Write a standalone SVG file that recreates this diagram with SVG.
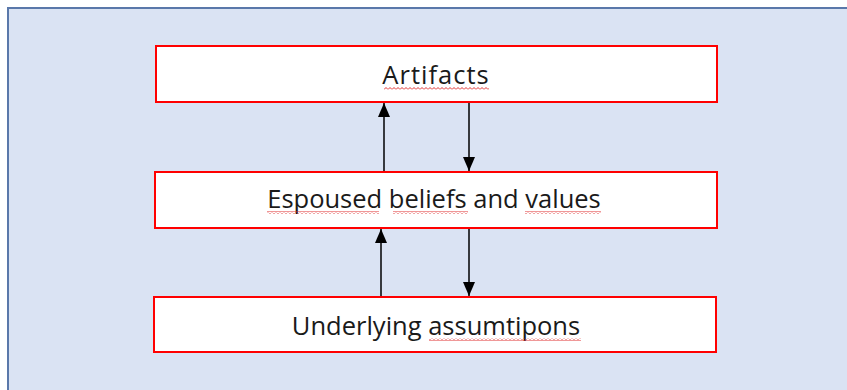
<svg xmlns="http://www.w3.org/2000/svg" width="847" height="390" viewBox="0 0 847 390">
<defs>
<style>
.box{fill:#ffffff;stroke:#ff0000;stroke-width:2}
.lbl{font-family:"Open Sans","DejaVu Sans",sans-serif;font-size:25.5px;fill:#1a1a1a;text-anchor:middle}
.conn{stroke:#000;stroke-width:1.5;fill:none}
</style>
<marker id="ah" viewBox="0 0 14 12" refX="14" refY="6" markerWidth="14" markerHeight="12" markerUnits="userSpaceOnUse" orient="auto">
<path d="M0,0 L14,6 L0,12 Z" fill="#000"/>
</marker>
<pattern id="wave" width="4" height="3" patternUnits="userSpaceOnUse">
<path d="M0,2.5 L2,0.5 L4,2.5" stroke="#e03030" stroke-width="1" fill="none"/>
</pattern>
</defs>
<rect x="0" y="0" width="847" height="390" fill="#ffffff"/>
<rect x="8" y="8" width="850" height="400" fill="#dae3f3" stroke="#5a78aa" stroke-width="2"/>
<g id="connectors">
<line class="conn" x1="384" y1="172" x2="384" y2="103" marker-end="url(#ah)"/>
<line class="conn" x1="469" y1="102" x2="469" y2="171" marker-end="url(#ah)"/>
<line class="conn" x1="381" y1="297" x2="381" y2="229" marker-end="url(#ah)"/>
<line class="conn" x1="469" y1="228" x2="469" y2="296" marker-end="url(#ah)"/>
</g>
<g id="artifacts">
<rect class="box" x="156" y="46" width="561" height="56"/>
<text class="lbl" x="436" y="84" letter-spacing="1">Artifacts</text>
<rect x="384" y="87" width="105" height="3" fill="url(#wave)"/>
</g>
<g id="espoused">
<rect class="box" x="155" y="172" width="562" height="56"/>
<text class="lbl" x="434" y="208">Espoused beliefs and values</text>
<rect x="267" y="211" width="112" height="3" fill="url(#wave)"/>
<rect x="393" y="211" width="75" height="3" fill="url(#wave)"/>
<rect x="525" y="211" width="76" height="3" fill="url(#wave)"/>
</g>
<g id="underlying">
<rect class="box" x="154" y="297" width="562" height="55"/>
<text class="lbl" x="436" y="335">Underlying assumtipons</text>
<rect x="429" y="338" width="152" height="3" fill="url(#wave)"/>
</g>
</svg>
